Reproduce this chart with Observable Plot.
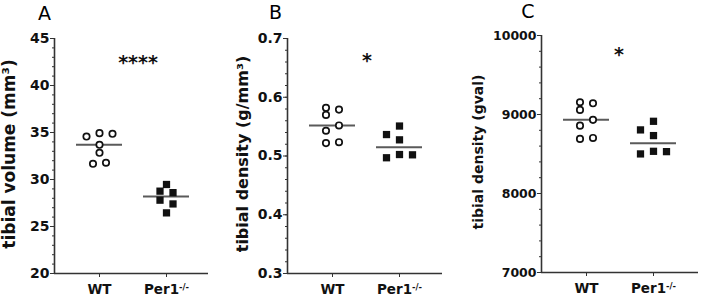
<!DOCTYPE html>
<html><head><meta charset="utf-8">
<script src="https://cdn.jsdelivr.net/npm/d3@7"></script>
<script src="https://cdn.jsdelivr.net/npm/@observablehq/plot@0.6"></script>
<style>
body{margin:0;background:#fff;}
#wrap{position:relative;width:702px;height:300px;overflow:hidden;}
.panel{position:absolute;top:0;}
</style></head><body><div id="wrap"></div>
<script>
// ---------- data ----------
const groups = ["WT", "Per1-/-"];
const panelLetters = ["A", "B", "C"];
const yLabels = ["tibial volume (mm³)", "tibial density (g/mm³)", "tibial density (gval)"];
const yDomains = [[20, 45], [0.3, 0.7], [7000, 10000]];
const yTicks = [[20, 25, 30, 35, 40, 45], [0.3, 0.4, 0.5, 0.6, 0.7], [7000, 8000, 9000, 10000]];
const yTickLabels = [["20", "25", "30", "35", "40", "45"], ["0.3", "0.4", "0.5", "0.6", "0.7"], ["7000", "8000", "9000", "10000"]];
const yMinorStep = [1, 0.02, 200];
const sigLabels = ["****", "*", "*"];
const sigY = [42.7, 0.667, 9788];

// panel A: tibial volume
const volumeWT = [34.57, 34.93, 34.86, 33.69, 32.84, 31.67, 31.78];
const volumeWTcol = [-1, 0, 1, 0, 0, -0.5, 0.5];
const volumePer1 = [29.47, 28.76, 28.6, 27.8, 27.4, 26.45];
const volumePer1col = [0, -0.5, 0.5, -0.5, 0.5, 0];
const volumeMeans = [33.69, 28.2];

// panel B: tibial density (g/mm3)
const densWT = [0.582, 0.570, 0.579, 0.543, 0.552, 0.522, 0.5235];
const densWTcol = [-0.5, -0.5, 0.5, -0.5, 0.5, -0.5, 0.5];
const densPer1 = [0.5365, 0.551, 0.5275, 0.497, 0.5025, 0.502];
const densPer1col = [-1, 0, 0, -1, 0, 1];
const densMeans = [0.552, 0.515];

// panel C: tibial density (gval)
const gvalWT = [9155, 9058, 9142, 8859, 8932, 8691, 8703];
const gvalWTcol = [-0.5, -0.5, 0.5, -0.5, 0.5, -0.5, 0.5];
const gvalPer1 = [8805, 8914, 8733, 8501, 8534, 8530];
const gvalPer1col = [-1, 0, 0, -1, 0, 1];
const gvalMeans = [8935, 8635];

const panelsData = [
  {wt: volumeWT, wtCol: volumeWTcol, ko: volumePer1, koCol: volumePer1col, means: volumeMeans},
  {wt: densWT, wtCol: densWTcol, ko: densPer1, koCol: densPer1col, means: densMeans},
  {wt: gvalWT, wtCol: gvalWTcol, ko: gvalPer1, koCol: gvalPer1col, means: gvalMeans}
];

// ---------- layout ----------
const layout = [
  {left: 0,   ml: 54, mr: 26, mt: 38, mb: 27, titleDx: -45, titleSize: 17, letterDx: -10, letterDy: -25, sigDx: 5, yFont: 14},
  {left: 234, ml: 53, mr: 26, mt: 38, mb: 27, titleDx: -45, titleSize: 16, letterDx: -12, letterDy: -25.5, sigDx: 1, yFont: 14},
  {left: 468, ml: 73, mr: 4,  mt: 35, mb: 28, titleDx: -63, titleSize: 14, letterDx: -13.5, letterDy: -23.5, sigDx: -1, yFont: 12.5}
];
const PX = 67;          // pixels per group unit
const SLOT = 13 / PX;   // jitter column width
const HALF = 23 / PX;   // half-width of mean line
const FONT = "DejaVu Sans";
const INK = "#111";

const wrap = document.getElementById("wrap");
const svgNS = "http://www.w3.org/2000/svg";

panelsData.forEach((pd, i) => {
  const L = layout[i];
  const W = 234, H = 300;
  const innerW = W - L.ml - L.mr;
  const xDomain = [1 - 45 / PX, 1 + (innerW - 45) / PX];
  const yDom = yDomains[i];
  const pts = [
    ...pd.wt.map((v, k) => ({g: 1, col: pd.wtCol[k], v})),
    ...pd.ko.map((v, k) => ({g: 2, col: pd.koCol[k], v}))
  ];
  const means = pd.means.map((m, k) => ({g: k + 1, m}));
  const minor = d3.range(yDom[0], yDom[1] + yMinorStep[i] / 2, yMinorStep[i]);

  const chart = Plot.plot({
    width: W, height: H,
    marginLeft: L.ml, marginRight: L.mr, marginTop: L.mt, marginBottom: L.mb,
    style: {fontFamily: FONT, fontWeight: "bold", color: INK, background: "transparent", overflow: "visible"},
    x: {domain: xDomain, axis: null},
    y: {domain: yDom, axis: null},
    marks: [
      Plot.axisY({ticks: minor, tickSize: 2, tickFormat: () => "", label: null, stroke: "#333"}),
      Plot.axisY({ticks: yTicks[i], tickSize: 4, tickPadding: 1, tickFormat: (d) => yTickLabels[i][yTicks[i].indexOf(d)],
                  label: null, fontSize: L.yFont, stroke: "#333", fill: INK}),
      Plot.axisX({ticks: [1, 2], tickSize: 4, tickPadding: 7, tickFormat: (d) => groups[d - 1],
                  label: null, fontSize: 13.5, stroke: "#333", fill: INK}),
      Plot.ruleX([xDomain[0]], {stroke: "#333", strokeWidth: 1.6}),
      Plot.ruleY([yDom[0]], {stroke: "#333", strokeWidth: 1.6}),
      Plot.ruleY(means, {y: "m", x1: (d) => d.g - HALF, x2: (d) => d.g + HALF, stroke: "#5a5a5a", strokeWidth: 2}),
      Plot.dot(pts.filter(d => d.g === 1), {x: (d) => d.g + d.col * SLOT, y: "v", r: 3.2, fill: "white", stroke: INK, strokeWidth: 1.7}),
      Plot.dot(pts.filter(d => d.g === 2), {x: (d) => d.g + d.col * SLOT, y: "v", r: 4.1, symbol: "square", fill: INK, stroke: "none"}),
      Plot.text([sigLabels[i]], {x: 1.5, y: sigY[i], text: (d) => d, fontSize: 19, fill: INK, dx: L.sigDx, dy: 3}),
      Plot.text([yLabels[i]], {frameAnchor: "left", text: (d) => d, rotate: -90, dx: L.titleDx, dy: -2,
                               fontSize: L.titleSize, fill: INK, textAnchor: "middle", lineAnchor: "middle"}),
      Plot.text([panelLetters[i]], {frameAnchor: "top-left", text: (d) => d, dx: L.letterDx, dy: L.letterDy,
                                    fontSize: 19, fill: "#000", textAnchor: "middle", lineAnchor: "middle"})
    ]
  });
  chart.classList.add("panel");
  chart.style.left = L.left + "px";
  chart.querySelectorAll("text").forEach(t => {
    // all chart text is bold except the panel letter
    t.style.fontWeight = panelLetters.includes(t.textContent) ? "normal" : "bold";
    // superscript for Per1-/-
    if (t.textContent === "Per1-/-") {
      t.textContent = "Per1";
      const ts = document.createElementNS(svgNS, "tspan");
      ts.setAttribute("dy", "-0.45em");
      ts.setAttribute("font-size", "0.62em");
      ts.textContent = "-/-";
      t.appendChild(ts);
    }
  });
  wrap.appendChild(chart);
});
</script>
</body></html>
